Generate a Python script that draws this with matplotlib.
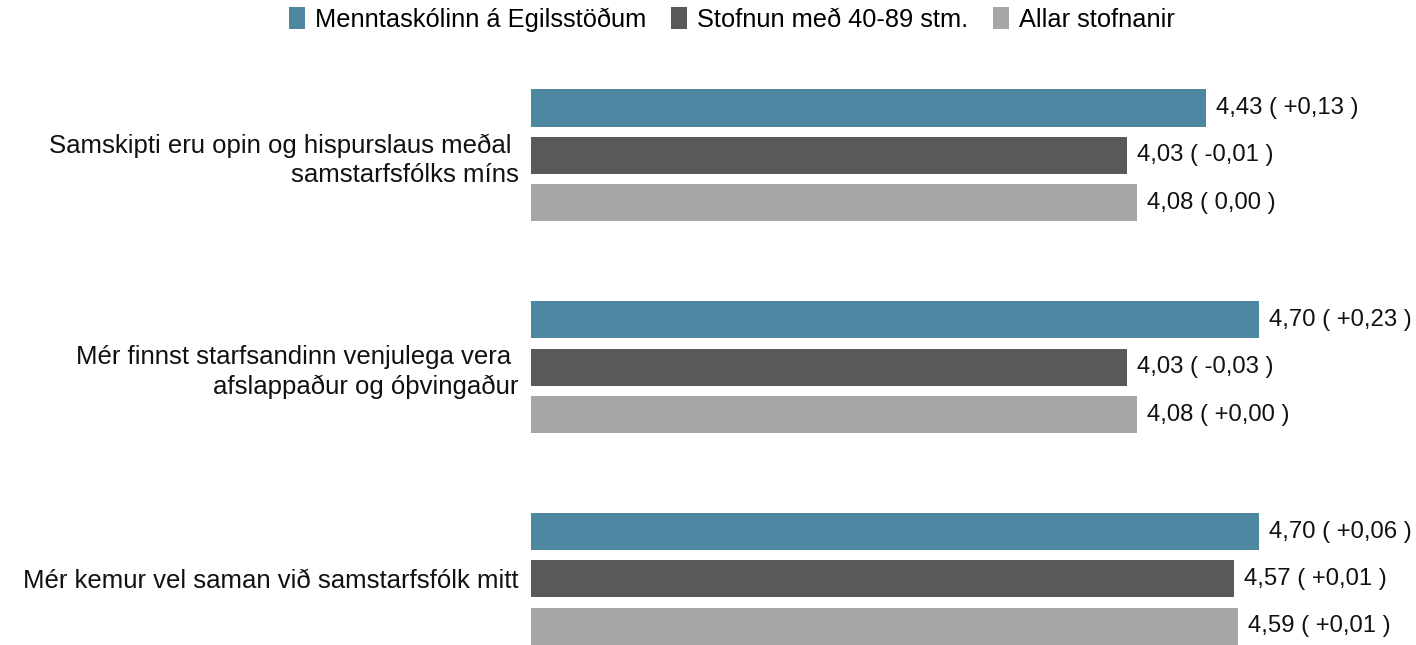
import matplotlib
matplotlib.use("Agg")
import matplotlib.pyplot as plt
import numpy as np

plt.rcParams['font.family'] = ['Liberation Sans', 'DejaVu Sans']

categories = [
    "Samskipti eru opin og hispurslaus meðal \nsamstarfsfólks míns",
    "Mér finnst starfsandinn venjulega vera \nafslappaður og óþvingaður",
    "Mér kemur vel saman við samstarfsfólk mitt",
]
series_names = ["Menntaskólinn á Egilsstöðum", "Stofnun með 40-89 stm.", "Allar stofnanir"]
school = [4.43, 4.70, 4.70]
group_4089 = [4.03, 4.03, 4.57]
all_inst = [4.08, 4.08, 4.59]
school_diff = ["+0,13", "+0,23", "+0,06"]
group_diff = ["-0,01", "-0,03", "+0,01"]
all_diff = ["0,00", "+0,00", "+0,01"]

colors = ["#4E87A1", "#595959", "#A6A6A6"]

fig = plt.figure(figsize=(14.16, 6.45), dpi=100)
ax = fig.add_axes([0.375, 0.0, 0.5575, 1.0])

y = np.arange(len(categories))
h = 0.175
off = 0.224
base = 1.0
series = [school, group_4089, all_inst]
diffs = [school_diff, group_diff, all_diff]
handles = []
for i, (vals, dl) in enumerate(zip(series, diffs)):
    pos = y + (i - 1) * off
    b = ax.barh(pos, np.array(vals) - base, left=base, height=h, color=colors[i], label=series_names[i])
    handles.append(b)
    for p, v, d in zip(pos, vals, dl):
        txt = f"{v:.2f}".replace(".", ",") + f" ( {d} )"
        ax.text(v + 0.05, p, txt, va='center', ha='left', fontsize=17.2, color='#111111')

ax.set_xlim(1, 5.01)
ax.set_ylim(2.312, -0.734)
ax.set_yticks(y)
ax.set_yticklabels(categories, fontsize=18.5, color='#111111', linespacing=1.28)
ax.tick_params(axis='y', length=0, pad=9)
ax.set_xticks([])
for s in ax.spines.values():
    s.set_visible(False)

fig.legend(handles=handles, labels=series_names, loc='upper center', bbox_to_anchor=(0.517, 1.025),
           ncol=3, frameon=False, fontsize=18.3, handlelength=0.6, handleheight=1.0,
           handletextpad=0.4, columnspacing=1.0)

fig.savefig("out.png", dpi=100)
